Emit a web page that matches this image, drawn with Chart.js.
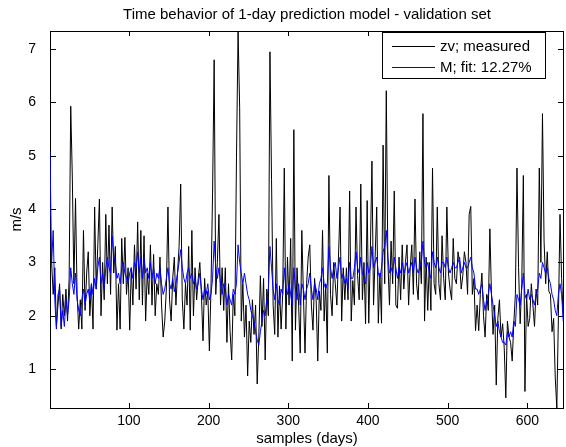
<!DOCTYPE html>
<html>
<head>
<meta charset="utf-8">
<script src="https://cdn.jsdelivr.net/npm/chart.js@4.4.1/dist/chart.umd.min.js"></script>
<style>
  html, body { margin: 0; padding: 0; background: #fff; }
  #wrap { width: 566px; height: 447px; }
</style>
</head>
<body>
<div id="wrap"><canvas id="c" width="566" height="447"></canvas></div>
<script>
// one value every 2 days, first sample = day 1
const firstSample = 1;
const sampleStep = 2;

// zv; measured (m/s)
const measured = [
  3.3, 3.0, 2.4, 2.9, 1.8, 2.2, 2.6, 1.75, 2.4, 2.0, 2.5, 1.9, 2.7, 5.93, 4.6,
  2.6, 4.2, 2.4, 1.75, 2.3, 1.75, 3.6, 2.1, 2.8, 3.2, 2.0, 2.6, 1.75, 4.04, 2.5,
  3.33, 4.19, 2.0, 3.0, 2.3, 3.9, 2.6, 3.7, 2.4, 4.04, 2.8, 3.3, 1.73, 2.6, 1.75,
  3.45, 2.6, 3.47, 2.4, 2.9, 1.73, 2.9, 2.2, 3.33, 2.5, 3.76, 2.3, 3.6, 2.2, 3.5,
  1.9, 2.8, 2.4, 3.33, 2.2, 3.15, 2.0, 2.6, 2.4, 3.1, 2.2, 1.6, 1.9, 2.5, 4.04,
  2.3, 1.9, 2.7, 3.1, 2.2, 2.8, 3.3, 4.47, 2.3, 1.75, 2.6, 2.2, 3.3, 1.73, 3.6,
  2.0, 2.9, 2.3, 2.7, 3.0, 2.4, 1.53, 2.7, 2.2, 2.46, 1.34, 2.5, 4.3, 6.8, 2.4,
  3.0, 3.9, 2.2, 2.9, 2.1, 2.9, 1.5, 2.6, 1.7, 1.17, 2.4, 2.0, 4.96, 7.34, 5.9,
  1.9, 2.6, 1.6, 2.2, 0.87, 1.9, 1.5, 2.3, 1.65, 2.2, 0.72, 1.6, 2.75, 1.8, 2.7,
  1.17, 2.5, 2.0, 6.95, 4.55, 2.2, 1.65, 3.45, 1.6, 2.56, 1.75, 2.4, 4.77, 1.75, 3.1,
  2.2, 3.45, 1.15, 5.49, 1.73, 2.9, 2.2, 1.3, 3.6, 2.4, 1.3, 2.6, 3.1, 3.33, 2.2,
  1.73, 2.7, 2.3, 1.15, 2.46, 2.1, 3.6, 1.9, 2.6, 1.3, 4.63, 2.4, 2.0, 3.0, 2.6,
  2.2, 3.1, 4.04, 1.9, 2.9, 2.3, 2.9, 2.3, 4.34, 1.9, 2.66, 2.2, 4.04, 2.75, 2.3,
  4.47, 2.3, 3.0, 1.85, 4.16, 1.86, 3.2, 4.9, 2.2, 3.1, 4.04, 1.86, 2.8, 1.86, 5.2,
  2.6, 6.22, 3.0, 2.2, 3.4, 2.6, 4.34, 2.2, 2.14, 3.1, 2.3, 3.33, 2.5, 3.0, 3.33,
  2.2, 2.9, 3.33, 2.4, 4.19, 2.6, 2.3, 3.2, 2.6, 5.79, 1.9, 3.1, 2.1, 3.0, 2.1,
  4.77, 2.6, 2.4, 4.04, 2.6, 2.3, 3.5, 2.7, 2.3, 4.04, 2.8, 2.5, 2.3, 3.45, 2.7,
  2.6, 3.2, 3.0, 2.5, 2.75, 3.2, 3.0, 2.4, 3.9, 4.05, 2.4, 2.7, 1.72, 2.2, 1.72,
  2.4, 2.8, 2.0, 1.6, 2.4, 2.1, 3.63, 2.4, 1.65, 2.2, 0.7, 1.95, 2.3, 1.6, 1.85,
  1.4, 0.46, 1.9, 1.6, 1.5, 1.15, 1.85, 2.4, 4.77, 2.9, 1.85, 2.6, 4.63, 0.58, 2.4,
  1.8, 1.95, 2.6, 2.2, 1.8, 2.5, 2.2, 4.77, 3.0, 5.79, 3.4, 2.6, 3.2, 2.46, 2.4,
  1.7, 1.95, 0.85, 0.27, 2.0, 3.9, 2.7, 2.0
];

// M; fit (m/s)
const fitted = [
  5.07, 3.0, 3.6, 2.3, 1.75, 2.4, 2.5, 1.8, 2.1, 1.8, 2.3, 2.0, 2.3, 2.9, 2.6,
  2.4, 2.8, 2.3, 2.1, 2.0, 2.3, 2.5, 2.2, 2.4, 2.5, 2.3, 2.6, 2.4, 2.7, 2.5,
  2.9, 3.1, 2.6, 2.8, 2.5, 2.9, 3.1, 2.9, 2.8, 3.5, 3.1, 3.0, 2.7, 2.8, 2.6,
  2.9, 3.0, 2.8, 2.7, 2.6, 2.8, 2.9, 2.7, 3.0, 2.9, 3.2, 2.8, 3.1, 2.7, 3.1,
  2.8, 2.9, 2.7, 3.0, 2.7, 2.9, 2.6, 2.8, 2.7, 2.9, 2.6, 2.4, 2.5, 2.7, 2.9,
  2.6, 2.5, 2.7, 2.45, 2.6, 2.8, 3.0, 3.24, 2.9, 2.7, 2.6, 2.8, 2.9, 2.7, 2.8,
  2.6, 2.7, 2.5, 2.6, 2.8, 2.5, 2.3, 2.5, 2.4, 2.6, 2.3, 2.4, 2.7, 3.4, 2.9,
  2.7, 2.9, 2.6, 2.4, 2.6, 2.5, 2.2, 2.4, 2.3, 2.2, 2.5, 2.4, 2.6, 3.33, 3.0,
  2.8, 2.6, 2.8, 2.6, 2.4, 2.3, 2.1, 2.0, 1.9, 1.7, 1.55, 1.45, 1.7, 1.9, 2.1,
  2.0, 2.3, 2.5, 3.3, 2.9, 2.5, 2.3, 2.6, 2.3, 2.2, 2.5, 2.4, 2.9, 2.5, 2.4,
  2.6, 2.4, 2.2, 2.9, 2.5, 2.3, 2.6, 2.2, 2.6, 2.5, 2.3, 2.5, 2.6, 2.8, 2.5,
  2.3, 2.6, 2.5, 2.3, 2.6, 2.7, 2.9, 2.6, 2.5, 2.6, 3.3, 2.9, 2.7, 2.9, 3.0,
  2.7, 2.9, 3.1, 2.7, 2.8, 2.6, 2.7, 2.5, 3.0, 2.7, 2.7, 2.9, 3.2, 2.9, 2.8,
  3.1, 2.8, 2.7, 2.6, 3.0, 2.8, 2.9, 3.3, 2.9, 3.0, 3.1, 2.8, 2.7, 2.9, 3.2,
  3.3, 3.6, 3.1, 2.8, 2.9, 2.8, 3.1, 2.9, 2.7, 2.9, 2.8, 3.0, 2.8, 2.9, 3.0,
  2.8, 2.9, 3.0, 2.8, 3.1, 2.9, 2.8, 2.9, 3.0, 3.4, 3.0, 2.9, 3.0, 2.8, 2.7,
  3.2, 3.0, 2.9, 3.1, 2.9, 2.8, 3.0, 3.0, 2.9, 3.1, 2.9, 2.8, 2.9, 3.0, 2.9,
  2.9, 3.0, 3.1, 2.8, 2.9, 3.0, 2.9, 2.9, 3.0, 3.1, 2.9, 2.8, 2.5, 2.5, 2.4,
  2.5, 2.6, 2.3, 2.1, 2.3, 2.4, 2.6, 2.4, 2.2, 2.0, 1.8, 1.9, 1.7, 1.6, 1.5,
  1.5, 1.45, 1.7, 1.6, 1.7, 1.6, 1.9, 1.8, 2.4, 2.3, 2.2, 2.5, 2.8, 2.4, 2.3,
  2.5, 2.3, 2.4, 2.3, 2.2, 2.4, 2.5, 2.8, 2.7, 3.0, 2.9, 2.8, 2.9, 2.7, 2.6,
  2.4, 2.3, 2.1, 2.0, 2.4, 2.6, 2.4, 1.9
];

const xTicks = [100, 200, 300, 400, 500, 600];
const yTicks = [1, 2, 3, 4, 5, 6, 7];
const xRange = [1, 646];
const yRange = [0.27, 7.34];

const titleText = 'Time behavior of 1-day prediction model - validation set';
const legendLabels = ['zv; measured', 'M; fit: 12.27%'];
const lineColors = ['#000000', '#0000ff'];

function toPoints(values) {
  return values.map((v, i) => ({ x: firstSample + i * sampleStep, y: v }));
}

const FONT = '"Liberation Sans", Arial, sans-serif';

// matlab-ish box: frame and inward ticks under the data, title and legend on top
const matlabBox = {
  id: 'matlabBox',
  beforeDatasetsDraw(chart) {
    const ctx = chart.ctx;
    const a = chart.chartArea;
    const xs = chart.scales.x, ys = chart.scales.y;
    ctx.save();
    ctx.strokeStyle = '#000';
    ctx.lineWidth = 1;
    ctx.strokeRect(a.left + 0.5, a.top + 0.5, a.right - a.left - 1, a.bottom - a.top);
    ctx.beginPath();
    xTicks.forEach(v => {
      const px = Math.round(xs.getPixelForValue(v)) + 0.5;
      ctx.moveTo(px, a.bottom); ctx.lineTo(px, a.bottom - 5);
      ctx.moveTo(px, a.top); ctx.lineTo(px, a.top + 5);
    });
    yTicks.forEach(v => {
      const py = Math.round(ys.getPixelForValue(v)) + 0.5;
      ctx.moveTo(a.left, py); ctx.lineTo(a.left + 6, py);
      ctx.moveTo(a.right, py); ctx.lineTo(a.right - 6, py);
    });
    ctx.stroke();
    ctx.restore();
  },
  afterDraw(chart) {
    const ctx = chart.ctx;
    const a = chart.chartArea;
    ctx.save();

    // legend
    const lx = 382.5, ly = 32.5, lw = 163, lh = 46;
    ctx.fillStyle = '#fff';
    ctx.fillRect(lx, ly, lw, lh);
    ctx.strokeStyle = '#000';
    ctx.lineWidth = 1;
    ctx.strokeRect(lx, ly, lw, lh);
    const rows = [46, 67];
    ctx.font = '15px ' + FONT;
    ctx.textBaseline = 'middle';
    ctx.textAlign = 'left';
    legendLabels.forEach((lab, i) => {
      ctx.fillStyle = lineColors[i];
      ctx.fillRect(392, rows[i], 43, 1);
      ctx.fillStyle = '#000';
      ctx.fillText(lab, 440, rows[i] + 0.5);
    });

    // title
    ctx.fillStyle = '#000';
    ctx.font = '15px ' + FONT;
    ctx.textAlign = 'center';
    ctx.textBaseline = 'middle';
    ctx.fillText(titleText, (a.left + a.right) / 2, 15);
    ctx.restore();
  }
};

new Chart(document.getElementById('c'), {
  type: 'line',
  data: {
    datasets: [{
      label: legendLabels[0],
      data: toPoints(measured),
      borderColor: lineColors[0],
      borderWidth: 1,
      pointRadius: 0,
      tension: 0,
      order: 1
    }, {
      label: legendLabels[1],
      data: toPoints(fitted),
      borderColor: lineColors[1],
      borderWidth: 1,
      pointRadius: 0,
      tension: 0,
      order: 0
    }]
  },
  options: {
    responsive: false,
    animation: false,
    events: [],
    layout: { padding: { top: 31, right: 2, left: 0, bottom: 0 } },
    plugins: {
      legend: { display: false },
      title: { display: false },
      tooltip: { enabled: false }
    },
    scales: {
      x: {
        type: 'linear',
        min: xRange[0],
        max: xRange[1],
        grid: { display: false },
        border: { display: false },
        afterBuildTicks: axis => { axis.ticks = xTicks.map(v => ({ value: v })); },
        afterFit: axis => { axis.height = 39; },
        ticks: { color: '#000', font: { family: FONT, size: 14 }, padding: -3, maxRotation: 0 },
        title: { display: true, text: 'samples (days)', color: '#000', font: { family: FONT, size: 15 }, padding: { top: 0, bottom: -1 } }
      },
      y: {
        min: yRange[0],
        max: yRange[1],
        grid: { display: false },
        border: { display: false },
        afterBuildTicks: axis => { axis.ticks = yTicks.map(v => ({ value: v })); },
        afterFit: axis => { axis.width = 50; },
        ticks: { color: '#000', font: { family: FONT, size: 14 }, padding: 6 },
        title: { display: true, text: 'm/s', color: '#000', font: { family: FONT, size: 15 }, padding: { top: 8, bottom: 0 } }
      }
    }
  },
  plugins: [matlabBox]
});
</script>
</body>
</html>
